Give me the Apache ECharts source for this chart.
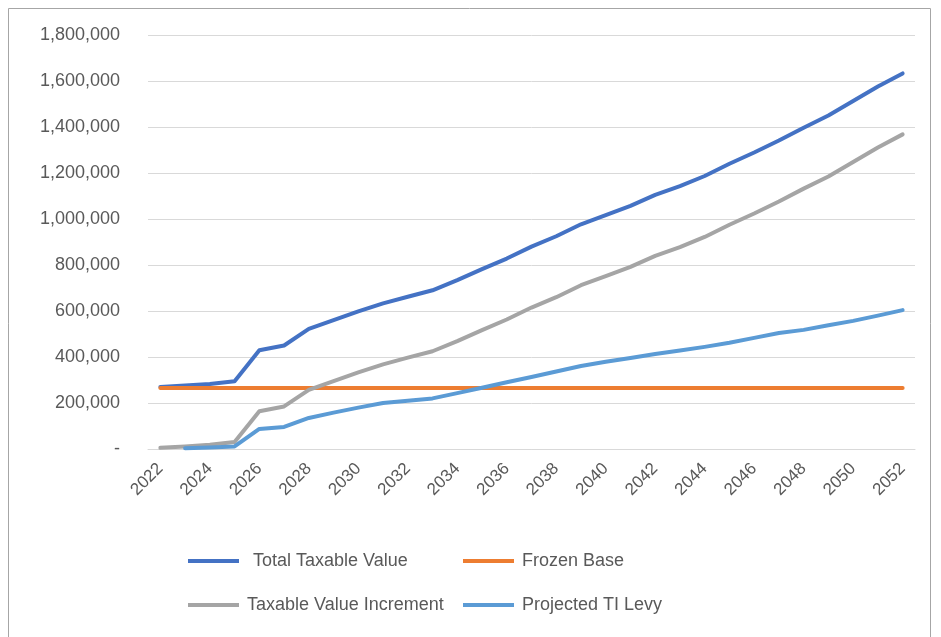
<!DOCTYPE html>
<html>
<head>
<meta charset="utf-8">
<script src="https://cdn.jsdelivr.net/npm/echarts@6/dist/echarts.min.js"></script>
<style>
html,body{margin:0;padding:0;background:#fff;}
#chart{width:941px;height:637px;}
</style>
</head>
<body>
<div id="chart"></div>
<script>
var years = ['2022','2023','2024','2025','2026','2027','2028','2029','2030','2031','2032','2033','2034','2035','2036','2037','2038','2039','2040','2041','2042','2043','2044','2045','2046','2047','2048','2049','2050','2051','2052'];
var totalTaxableValue = [270000,276000,283000,295000,429000,450000,522000,560000,598000,633000,662000,690000,734000,782000,828000,880000,925000,977000,1017000,1057000,1105000,1143000,1187000,1240000,1289000,1341000,1397000,1450000,1513000,1576000,1633000];
var frozenBase = [265000,265000,265000,265000,265000,265000,265000,265000,265000,265000,265000,265000,265000,265000,265000,265000,265000,265000,265000,265000,265000,265000,265000,265000,265000,265000,265000,265000,265000,265000,265000];
var taxableValueIncrement = [5000,11000,18000,30000,164000,185000,257000,295000,333000,368000,397000,425000,469000,517000,563000,615000,660000,712000,752000,792000,840000,878000,922000,975000,1024000,1076000,1132000,1185000,1248000,1311000,1368000];
var projectedTILevy = [null,3000,6000,11000,87000,96000,135000,158000,180000,200000,210000,220000,243000,266000,290000,313000,337000,361000,379000,396000,413000,428000,444000,462000,483000,504000,518000,538000,557000,580000,604000];
var yTickLabels = ['-','200,000','400,000','600,000','800,000','1,000,000','1,200,000','1,400,000','1,600,000','1,800,000'];
var seriesNames = ['Total Taxable Value','Frozen Base','Taxable Value Increment','Projected TI Levy'];
var seriesColors = ['#4472C4','#ED7D31','#A5A5A5','#5B9BD5'];

var FONT = "'Liberation Sans', Arial, sans-serif";
var TXT = '#595959';

var chart = echarts.init(document.getElementById('chart'), null, {renderer:'canvas'});

function mkLine(i, data){
  return {
    name: seriesNames[i], type:'line', data:data, symbol:'none', smooth:false,
    lineStyle:{color:seriesColors[i], width:4, cap:'round', join:'round'},
    itemStyle:{color:seriesColors[i]},
    emphasis:{disabled:true}, animation:false
  };
}
function mkLegend(i, left, top, pad){
  return {
    data:[seriesNames[i]], left:left, top:top, icon:'rect', itemWidth:51, itemHeight:4,
    itemGap:0, padding:0, selectedMode:false,
    textStyle:{color:TXT, fontSize:18, fontFamily:FONT, padding:[0,0,0,pad]}
  };
}

chart.setOption({
  backgroundColor:'#fff',
  animation:false,
  graphic:[{type:'rect', shape:{x:8.5,y:8.5,width:922,height:640}, style:{fill:'none', stroke:'#a6a6a6', lineWidth:1}, silent:true}],
  grid:{left:148, right:26, top:35, bottom:188, containLabel:false},
  xAxis:{
    type:'category', data:years, boundaryGap:true,
    axisLine:{show:true, lineStyle:{color:'#d9d9d9', width:1}},
    axisTick:{show:false},
    axisLabel:{interval:1, rotate:45, color:TXT, fontSize:17, fontFamily:FONT, margin:17}
  },
  yAxis:{
    type:'value', min:0, max:1800000, interval:200000,
    axisLine:{show:false}, axisTick:{show:false},
    splitLine:{lineStyle:{color:'#d9d9d9', width:1}},
    axisLabel:{color:TXT, fontSize:18, fontFamily:FONT, margin:28,
      formatter:function(v){return yTickLabels[Math.round(v/200000)];}}
  },
  legend:[
    mkLegend(0,188,552,9),
    mkLegend(1,463,552,3),
    mkLegend(2,188,596,3),
    mkLegend(3,463,596,3)
  ],
  series:[
    mkLine(0,totalTaxableValue),
    mkLine(1,frozenBase),
    mkLine(2,taxableValueIncrement),
    mkLine(3,projectedTILevy)
  ]
});
</script>
</body>
</html>
